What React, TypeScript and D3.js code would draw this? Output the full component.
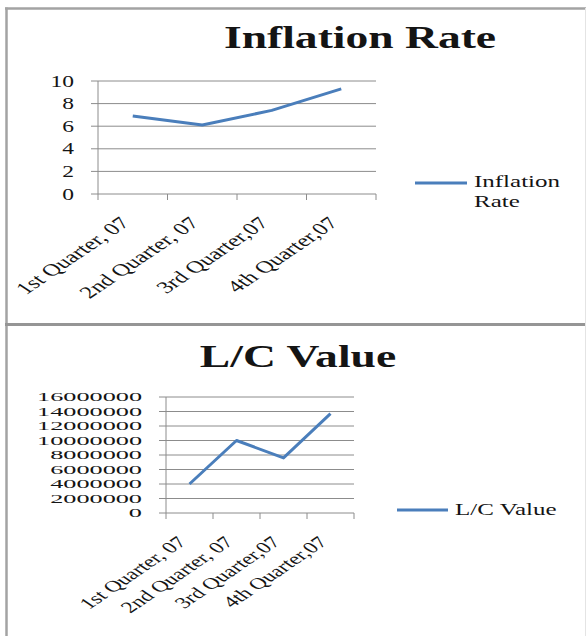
import React from "react";
import * as d3 from "d3";

const quarters = ["1st Quarter, 07", "2nd Quarter, 07", "3rd Quarter,07", "4th Quarter,07"];
const inflationRate = [6.9, 6.1, 7.4, 9.3];
const inflationTicks = [0, 2, 4, 6, 8, 10];
const lcValue = [4000000, 10000000, 7600000, 13700000];
const lcTicks = [0, 2000000, 4000000, 6000000, 8000000, 10000000, 12000000, 14000000, 16000000];

const S = 1.47; // horizontal stretch of the original picture
const FONT = "'Liberation Serif', 'Times New Roman', serif";
const LINE = "#4A7EBB";
const GRID = "#8c8c8c";
const INK = "#141414";

type ChartProps = {
  title: string;
  seriesName: string[];
  values: number[];
  ticks: number[];
  x0: number; x1: number; y0: number; y1: number;
  yMax: number;
  yLabelFont: number; yLabelStretch: number;
  xLabelFont: number;
  titleX: number; titleY: number;
  legendX0: number; legendX1: number; legendY: number; legendTextX: number; legendBaseline: number;
};

function LineChart(p: ChartProps) {
  const x = d3.scaleBand<string>().domain(quarters).range([p.x0, p.x1]);
  const y = d3.scaleLinear().domain([0, p.yMax]).range([p.y0, p.y1]);
  const line = d3.line<number>()
    .x((_, i) => (x(quarters[i]) as number) + x.bandwidth() / 2)
    .y((d) => y(d));
  const edges = quarters.map((q) => x(q) as number).concat([p.x1]);
  return (
    <g fontFamily={FONT} fill={INK}>
      <text transform={`translate(${p.titleX},${p.titleY}) scale(${S},1)`} textAnchor="middle" fontSize={31} fontWeight="bold">{p.title}</text>
      {p.ticks.map((t) => (
        <g key={t}>
          <line x1={p.x0 - 7} x2={p.x1} y1={y(t)} y2={y(t)} stroke={GRID} strokeWidth={1} />
          <text transform={`translate(${p.x0 - 24},${y(t)}) scale(${p.yLabelStretch},1)`} textAnchor="end" dominantBaseline="central" fontSize={p.yLabelFont}>{d3.format("d")(t)}</text>
        </g>
      ))}
      <line x1={p.x0} x2={p.x0} y1={y(p.yMax)} y2={p.y0} stroke={GRID} strokeWidth={1} />
      {edges.map((e, i) => (
        <line key={i} x1={e} x2={e} y1={p.y0} y2={p.y0 + 6} stroke={GRID} strokeWidth={1} />
      ))}
      {quarters.map((q) => (
        <text key={q} transform={`translate(${(x(q) as number) + x.bandwidth() / 2 - 2},${p.y0 + 30}) scale(${S},1) rotate(-45)`} textAnchor="end" fontSize={p.xLabelFont}>{q}</text>
      ))}
      <path d={line(p.values) as string} fill="none" stroke={LINE} strokeWidth={3} strokeLinejoin="round" />
      <line x1={p.legendX0} x2={p.legendX1} y1={p.legendY} y2={p.legendY} stroke={LINE} strokeWidth={3} />
      {p.seriesName.map((s, i) => (
        <text key={s} transform={`translate(${p.legendTextX},${p.legendBaseline + i * 20}) scale(${S},1)`} fontSize={17}>{s}</text>
      ))}
    </g>
  );
}

export default function App() {
  return (
    <svg width={586} height={636} style={{ position: "absolute", left: 0, top: 0, background: "#fff" }}>
      <rect x={0} y={0} width={586} height={636} fill="#fff" />
      <line x1={5} x2={586} y1={8.5} y2={8.5} stroke="#a3a3a3" strokeWidth={2.5} />
      <line x1={6.5} x2={6.5} y1={7.5} y2={636} stroke="#a3a3a3" strokeWidth={2.5} />
      <line x1={5} x2={586} y1={324.5} y2={324.5} stroke="#959595" strokeWidth={3} />
      <line x1={585.5} x2={585.5} y1={8} y2={636} stroke="#e4e4e4" strokeWidth={1} />
      <LineChart
        title="Inflation Rate" seriesName={["Inflation", "Rate"]} values={inflationRate} ticks={inflationTicks}
        x0={98} x1={376} y0={194} y1={81} yMax={10} yLabelFont={16} yLabelStretch={S} xLabelFont={17}
        titleX={360} titleY={48}
        legendX0={415} legendX1={467} legendY={183} legendTextX={474} legendBaseline={187}
      />
      <LineChart
        title="L/C Value" seriesName={["L/C Value"]} values={lcValue} ticks={lcTicks}
        x0={166} x1={354} y0={513} y1={397} yMax={16000000} yLabelFont={12.5} yLabelStretch={2.1} xLabelFont={16}
        titleX={298} titleY={367}
        legendX0={397} legendX1={448} legendY={510} legendTextX={455} legendBaseline={515}
      />
    </svg>
  );
}
